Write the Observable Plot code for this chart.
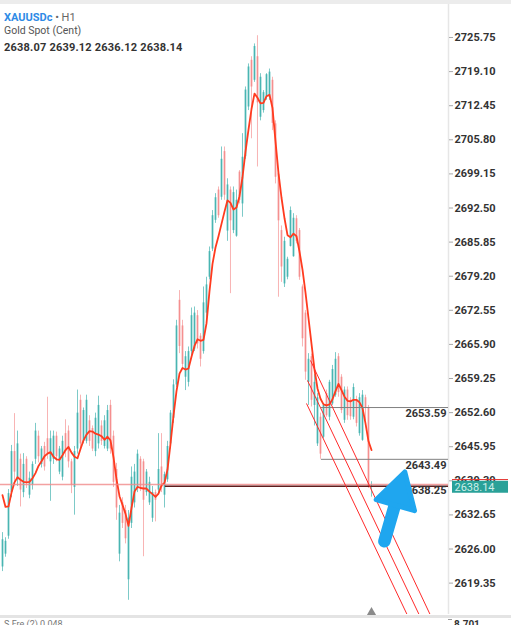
<!DOCTYPE html>
<html><head><meta charset="utf-8">
<script src="https://cdn.jsdelivr.net/npm/d3@7"></script>
<script src="https://cdn.jsdelivr.net/npm/@observablehq/plot@0.6"></script>
<style>
html,body{margin:0;padding:0;background:#fff;overflow:hidden}
#wrap{position:relative;width:511px;height:625px;overflow:hidden;font-family:Roboto,"Noto Sans",sans-serif}
#chart svg{display:block}
.ov{position:absolute;white-space:nowrap}
</style></head>
<body>
<div id="wrap">
  <div id="chart"></div>
  <div class="ov" style="left:0;top:0;width:511px;height:4px;background:#ececec"></div>
  <div class="ov" style="left:4px;top:12px;font-size:11px;line-height:11px"><span style="color:#2f8be6;font-weight:bold">XAUUSDc</span> <span style="color:#666">• H1</span></div>
  <div class="ov" style="left:4px;top:25px;font-size:10.5px;line-height:11px;color:#555">Gold Spot (Cent)</div>
  <div class="ov" style="left:4px;top:42px;font-size:11px;line-height:11px;color:#333;font-weight:bold;letter-spacing:0.2px">2638.07 2639.12 2636.12 2638.14</div>
  <div class="ov" style="left:0;top:615px;width:511px;height:3px;background:#e4e4e4"></div>
  <div class="ov" style="left:4px;top:620px;font-size:9px;line-height:9px;color:#777">S.Fre (2) 0.048</div>
  <div class="ov" style="left:448px;top:619px;width:4px;height:1px;background:#999"></div>
  <div class="ov" style="left:454px;top:620px;font-size:10px;line-height:10px;color:#333;font-weight:bold">8.701</div>
</div>
<script>
// ---- candle data (H1) ----
const open = [2622.5,2625.0,2628.5,2637.0,2645.0,2639.5,2643.5,2637.0,2643.5,2636.5,
2638.5,2643.5,2648.0,2642.5,2646.0,2647.5,2643.0,2643.5,2648.0,2641.0,
2640.0,2648.5,2649.0,2643.0,2638.0,2645.5,2655.0,2647.0,2647.0,2651.0,
2649.5,2645.0,2646.5,2650.0,2646.0,2645.5,2654.0,2648.0,2641.5,2625.0,
2635.0,2633.5,2620.0,2631.0,2635.0,2638.0,2643.5,2643.0,2637.0,2635.0,
2632.0,2637.0,2637.5,2642.0,2636.5,2639.5,2646.5,2651.5,2658.0,2674.5,
2669.5,2659.5,2658.5,2664.5,2665.0,2671.5,2667.5,2664.5,2672.0,2679.0,
2684.5,2690.1,2696.0,2694.6,2703.5,2688.0,2696.0,2688.1,2687.0,2699.5,
2693.3,2702.5,2712.2,2721.3,2717.4,2722.0,2710.2,2711.5,2714.1,2714.1,
2717.4,2708.9,2699.2,2688.1,2677.7,2679.0,2685.0,2683.0,2690.4,2688.1,
2677.1,2672.0,2658.5,2663.5,2654.0,2646.5,2651.7,2647.8,2656.3,2651.7,
2654.3,2656.0,2663.5,2659.5,2651.1,2657.0,2655.0,2651.7,2655.0,2648.5,
2647.2,2655.5,2653.5,2638.07];
const high = [2629.2,2628.2,2637.6,2646.2,2652.4,2649.0,2644.5,2644.6,2644.0,2641.0,
2643.0,2650.5,2649.0,2646.0,2646.8,2655.6,2649.0,2649.0,2648.8,2646.0,
2648.0,2651.2,2650.0,2643.5,2646.0,2657.0,2656.0,2653.5,2656.0,2652.0,
2650.0,2652.5,2655.8,2651.0,2652.0,2654.0,2655.0,2649.0,2642.7,2634.5,
2636.0,2634.5,2633.5,2642.0,2642.5,2645.3,2644.0,2643.5,2641.5,2640.0,
2638.2,2637.5,2648.5,2648.5,2641.0,2647.0,2653.0,2659.0,2670.6,2676.4,
2670.6,2664.5,2665.4,2673.0,2673.2,2672.5,2668.0,2677.1,2679.0,2684.9,
2692.0,2695.3,2696.6,2704.4,2704.4,2698.2,2696.6,2696.6,2696.0,2699.8,
2707.0,2716.1,2720.6,2722.0,2724.5,2726.1,2718.7,2715.4,2718.7,2719.6,
2718.0,2709.5,2700.0,2689.0,2686.8,2682.9,2692.7,2691.4,2691.0,2688.5,
2677.5,2672.5,2664.1,2664.0,2660.0,2656.3,2652.5,2654.3,2657.0,2658.9,
2661.8,2664.3,2664.1,2660.0,2657.6,2657.6,2655.5,2658.2,2655.8,2656.3,
2656.9,2656.0,2654.0,2639.12];
const low = [2621.6,2624.4,2627.9,2636.0,2639.0,2638.2,2634.2,2636.0,2637.8,2635.8,
2637.5,2642.5,2642.8,2641.8,2641.2,2643.5,2635.3,2642.5,2643.0,2640.5,
2639.3,2643.8,2641.8,2636.8,2632.6,2644.5,2645.5,2646.5,2646.5,2646.0,
2645.0,2644.0,2645.5,2646.2,2645.5,2645.0,2644.5,2638.0,2631.6,2623.5,
2630.0,2627.0,2616.0,2630.0,2634.0,2637.0,2637.2,2624.5,2636.3,2634.5,
2631.2,2631.3,2636.5,2637.0,2634.0,2639.0,2645.5,2650.5,2657.5,2664.1,
2661.3,2656.9,2657.6,2663.5,2664.5,2665.0,2661.5,2664.0,2671.0,2678.5,
2684.0,2689.5,2690.5,2694.0,2694.0,2686.0,2675.8,2687.5,2686.8,2693.3,
2690.7,2702.0,2711.5,2706.0,2717.0,2700.5,2709.5,2711.0,2713.5,2713.5,
2707.6,2697.2,2675.1,2678.0,2677.0,2678.5,2684.9,2682.9,2685.5,2678.4,
2665.4,2658.9,2654.0,2653.7,2650.0,2646.0,2643.5,2647.5,2651.7,2651.0,
2654.0,2655.6,2655.6,2652.4,2650.5,2651.1,2651.1,2651.2,2649.8,2648.0,
2647.0,2651.0,2637.8,2636.12];
const close = [2627.8,2627.5,2636.8,2645.0,2641.0,2646.5,2637.5,2642.5,2639.0,2639.8,
2642.5,2649.0,2644.0,2645.5,2642.0,2644.5,2647.5,2648.0,2644.0,2645.5,
2647.0,2645.0,2643.0,2638.5,2645.0,2652.5,2646.5,2653.0,2655.0,2647.0,
2645.5,2651.5,2654.0,2647.0,2651.0,2653.0,2645.5,2639.0,2634.0,2633.0,
2631.0,2628.0,2632.0,2640.0,2641.0,2644.5,2638.0,2635.5,2641.0,2639.0,
2637.0,2635.5,2641.5,2638.0,2640.5,2646.0,2652.5,2658.0,2669.5,2665.5,
2662.0,2663.5,2664.5,2671.5,2672.0,2666.0,2663.0,2674.0,2677.5,2684.0,
2691.0,2694.5,2691.0,2702.0,2695.0,2697.0,2690.0,2695.5,2694.0,2694.0,
2702.4,2715.5,2720.0,2716.1,2724.0,2713.0,2718.0,2715.0,2718.5,2719.0,
2709.0,2698.5,2690.0,2681.0,2686.0,2682.5,2692.0,2690.5,2686.0,2679.0,
2667.0,2660.5,2663.0,2655.0,2658.5,2655.5,2644.5,2654.0,2652.0,2658.5,
2661.0,2663.0,2656.5,2653.0,2657.0,2652.0,2651.8,2657.5,2650.5,2655.5,
2656.0,2653.5,2638.07,2638.14];
// moving average
const ma = [2636.5,2634.2,2634.3,2637.0,2639.0,2640.0,2639.5,2639.1,2639.0,2639.1,
2639.8,2640.8,2642.2,2643.1,2644.1,2644.6,2644.9,2644.0,2643.5,2643.4,
2644.3,2645.3,2645.9,2644.8,2644.0,2643.7,2645.5,2647.2,2648.3,2649.0,
2648.9,2648.5,2648.3,2648.0,2647.3,2647.9,2647.2,2643.9,2639.6,2636.3,
2634.6,2632.9,2630.5,2634.0,2637.2,2638.1,2637.9,2637.8,2637.8,2637.2,
2636.7,2636.15,2636.8,2638.4,2638.9,2641.5,2646.5,2652.0,2656.8,2660.2,
2661.3,2661.0,2661.2,2663.5,2665.6,2666.9,2666.6,2666.8,2670.0,2676.3,
2681.6,2684.8,2687.0,2689.4,2691.8,2694.0,2693.5,2692.2,2692.6,2694.8,
2698.5,2703.5,2707.8,2711.8,2714.8,2714.0,2712.9,2713.0,2714.3,2714.6,
2712.0,2705.5,2699.3,2694.5,2690.5,2687.2,2686.8,2687.5,2687.0,2684.0,
2680.5,2676.0,2671.0,2666.0,2661.0,2657.3,2655.3,2654.2,2654.0,2654.2,
2655.2,2656.8,2658.2,2657.0,2655.7,2654.9,2654.8,2655.1,2655.1,2654.6,
2653.5,2650.5,2647.0,2645.3];
// price axis tick labels
const yTicks = [2725.75,2719.10,2712.45,2705.80,2699.15,2692.50,2685.85,2679.20,2672.55,
2665.90,2659.25,2652.60,2645.95,2639.30,2632.65,2626.00,2619.35];
// horizontal levels (price, start bar)
const levelPrice = [2653.59, 2643.49];
const levelStart = [106.3, 106.3];
const supportPrice = 2638.25, supportStart = 54.3;
const pinkLinePrice = 2638.6;
const askPrice = 2639.55;
// channel lines (bar index, price)
const chanX1 = [101.33, 101.67, 102.67];
const chanP1 = [2654.38, 2658.86, 2662.76];
const chanX2 = [135.33, 139.33, 143.0];
const chanP2 = [2612.65, 2612.65, 2612.65];
// annotation arrow (bar index, price)
const arrowTail = [127.3, 2627.5];
const arrowNeck = [131.3, 2635.6];
const arrowHead = [132.0, 2636.7];

const N = close.length;
const bars = d3.range(N).map(i => ({i, o: open[i], h: high[i], l: low[i], c: close[i], m: ma[i]}));
const up = "#26a6a4", down = "#f26a6a";
const xDomain = [-0.667, 148.667];
const xMax = xDomain[1];
const last = bars[N - 1];
const levels = levelPrice.map((p, k) => ({p, s: levelStart[k]}));
const chan = chanX1.map((x, k) => ({x1: x, y1: chanP1[k], x2: chanX2[k], y2: chanP2[k]}));

const chart = Plot.plot({
  width: 511, height: 625,
  marginLeft: 0, marginRight: 63, marginTop: 4, marginBottom: 11,
  style: {fontFamily: "Roboto, 'Noto Sans', sans-serif", background: "transparent"},
  x: {domain: xDomain, axis: null},
  y: {domain: [2613.23, 2732.185], axis: null},
  marks: [
    Plot.ruleX([xMax], {stroke: "#e6e6e6", strokeWidth: 1.5}),
    Plot.axisY({anchor: "right", ticks: yTicks, tickFormat: d => d.toFixed(2), tickSize: 4, tickPadding: 2,
      stroke: "#aaa", fill: "#333", fontSize: 11, fontWeight: "bold"}),
    Plot.ruleX(bars, {filter: d => d.c >= d.o, x: "i", y1: "l", y2: "h", stroke: up, strokeOpacity: 0.6, strokeWidth: 1}),
    Plot.ruleX(bars, {filter: d => d.c >= d.o, x: "i", y1: "o", y2: "c", stroke: up, strokeOpacity: 0.6, strokeWidth: 2}),
    Plot.ruleX(bars, {filter: d => d.c < d.o, x: "i", y1: "l", y2: "h", stroke: down, strokeOpacity: 0.5, strokeWidth: 1}),
    Plot.ruleX(bars, {filter: d => d.c < d.o, x: "i", y1: "o", y2: "c", stroke: down, strokeOpacity: 0.5, strokeWidth: 2}),
    Plot.line(bars, {x: "i", y: "m", stroke: "#ff3b1f", strokeWidth: 1.8}),
    Plot.ruleY([pinkLinePrice], {x1: xDomain[0], x2: xMax, stroke: "#f08a8a", strokeWidth: 1.5, strokeOpacity: 0.8}),
    Plot.ruleY([supportPrice], {x1: supportStart, x2: xMax, stroke: "#5e1d1d", strokeWidth: 1.6}),
    Plot.ruleY(levels, {y: "p", x1: "s", x2: xMax, stroke: "#808080", strokeWidth: 1}),
    Plot.text(levels, {x: xMax, y: "p", text: d => d.p.toFixed(2), textAnchor: "end", dx: -2, dy: 6,
      fill: "#333", fontSize: 11, fontWeight: "bold"}),
    Plot.text([supportPrice], {x: xMax, y: d => d, text: d => d.toFixed(2), textAnchor: "end", dx: -2, dy: 4,
      fill: "#333", fontSize: 11, fontWeight: "bold"}),
    Plot.link(chan, {x1: "x1", y1: "y1", x2: "x2", y2: "y2", stroke: "#ff2a2a", strokeWidth: 1, clip: true}),
    Plot.ruleY([last.c], {x1: 150, x2: 168.67, stroke: "#2aa198", strokeWidth: 12}),
    Plot.ruleY([askPrice], {x1: 150, x2: 168.67, stroke: "#e53935", strokeWidth: 1}),
    Plot.text([last.c], {x: 150, y: d => d, text: d => d.toFixed(2), textAnchor: "start", dx: 2, dy: 0.5,
      fill: "#cdeee9", fontSize: 11}),
    Plot.dot([last.i], {x: d => d, frameAnchor: "bottom", symbol: "triangle", r: 3.5, fill: "#8a8a8a", dy: -2}),
    Plot.link([0], {x1: () => arrowTail[0], y1: () => arrowTail[1], x2: () => arrowNeck[0], y2: () => arrowNeck[1],
      stroke: "#1fa6ef", strokeWidth: 12.5, strokeLinecap: "round"}),
    Plot.dot([arrowHead], {x: d => d[0], y: d => d[1], symbol: "triangle", r: 14.8, rotate: 16,
      fill: "#1fa6ef", stroke: "#1fa6ef", strokeWidth: 5, strokeLinejoin: "round"})
  ]
});
document.getElementById("chart").appendChild(chart);
</script>
</body></html>
